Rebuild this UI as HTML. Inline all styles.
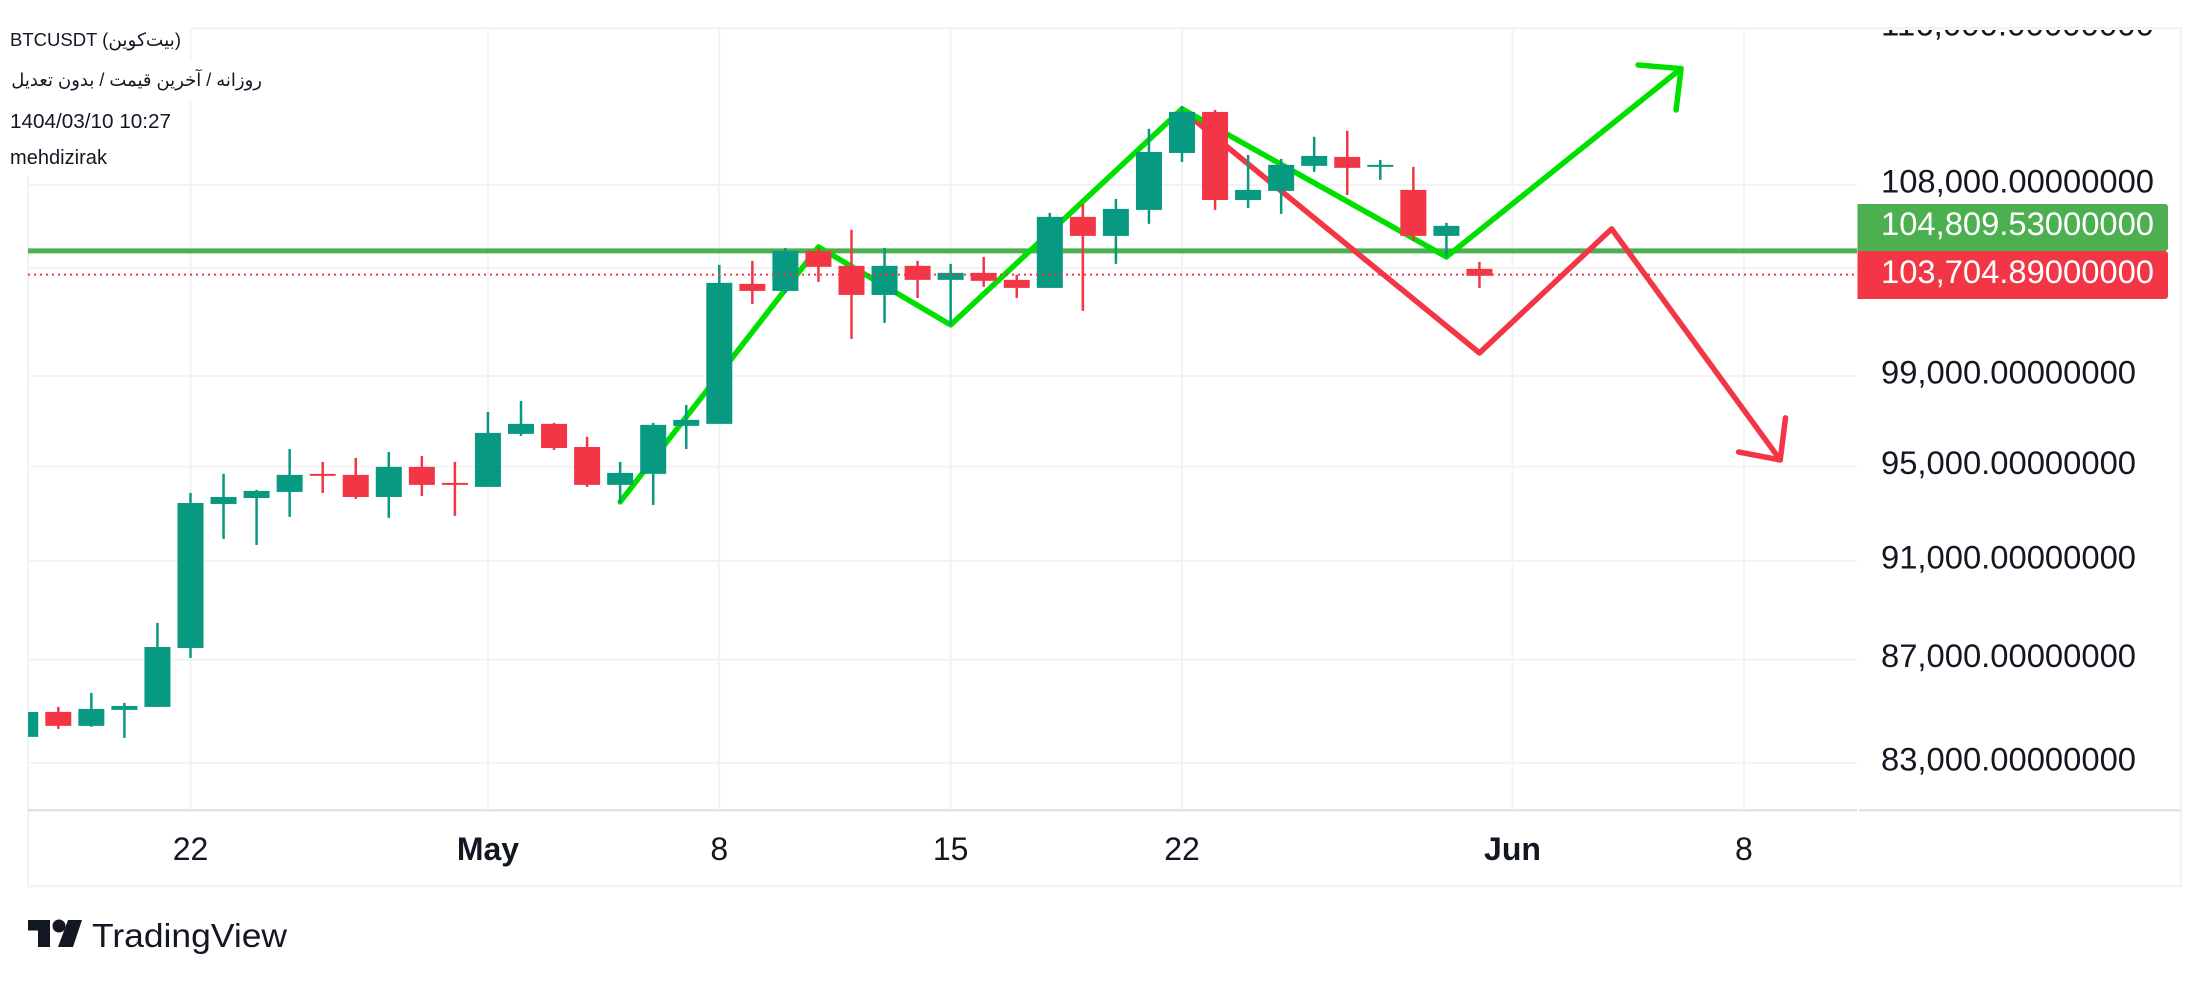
<!DOCTYPE html>
<html lang="en">
<head>
<meta charset="utf-8">
<title>BTCUSDT chart</title>
<style>
html,body{margin:0;padding:0;background:#fff;width:2209px;height:982px;overflow:hidden}
svg{display:block}
text{font-family:"Liberation Sans","DejaVu Sans",sans-serif;fill:#131722}
</style>
</head>
<body>
<svg id="chart" width="2209" height="982" viewBox="0 0 2209 982" xmlns="http://www.w3.org/2000/svg">
  <defs>
    <clipPath id="plot-clip"><rect x="28" y="28" width="1829" height="782"/></clipPath>
    <clipPath id="axis-clip"><rect x="1858" y="30" width="322" height="780"/></clipPath>
  </defs>
  <g id="grid"></g>
  <g id="frame">
    <rect x="190" y="27" width="1992" height="2.5" fill="#f0f3fa"/>
    <rect x="27" y="28" width="2.5" height="859" fill="#f0f3fa"/>
    <rect x="2180" y="28" width="2" height="859" fill="#f0f3fa"/>
    <rect x="27" y="885" width="2155" height="2.5" fill="#f0f3fa"/>
    <rect x="28" y="809" width="1829" height="2.5" fill="#e0e3eb"/>
    <rect x="1859" y="809" width="322" height="2.5" fill="#e0e3eb"/>
  </g>
  <g id="marks" clip-path="url(#plot-clip)"></g>
  <g id="price-axis" clip-path="url(#axis-clip)"></g>
  <g id="time-axis"></g>

  <g>
    <path d="M1857.5 204H2165a3 3 0 0 1 3 3V248a3 3 0 0 1-3 3H1857.5Z" fill="#4caf50"/>
    <text x="1881" y="235" font-size="32" textLength="273" lengthAdjust="spacingAndGlyphs" style="fill:#ffffff">104,809.53000000</text>
    <path d="M1857.5 251H2165a3 3 0 0 1 3 3V296a3 3 0 0 1-3 3H1857.5Z" fill="#f23645"/>
    <text x="1881" y="283" font-size="32" textLength="273" lengthAdjust="spacingAndGlyphs" style="fill:#ffffff">103,704.89000000</text>
  </g>

  <g>
    <rect x="0" y="26" width="190" height="36" fill="#fff"/>
    <rect x="0" y="60" width="262" height="42" fill="#fff"/>
    <rect x="0" y="100" width="172" height="40" fill="#fff"/>
    <rect x="0" y="138" width="108" height="39" fill="#fff"/>
    <text x="10" y="46" font-size="18.500">BTCUSDT (بیت‌کوین)</text>
    <text x="262" y="86" font-size="18" direction="rtl" text-anchor="start">روزانه / آخرین قیمت / بدون تعدیل</text>
    <text x="10" y="128" font-size="20" textLength="161" lengthAdjust="spacingAndGlyphs">1404/03/10 10:27</text>
    <text x="10" y="164" font-size="20" textLength="97" lengthAdjust="spacingAndGlyphs">mehdizirak</text>
  </g>

  <g>
    <path fill="#131722" d="M28 920H50V947H38V930.500H28Z M58 947L68 920H82L73 947Z"/>
    <circle cx="59" cy="926" r="6.500" fill="#131722"/>
    <text x="92" y="947" font-size="33" textLength="195" lengthAdjust="spacingAndGlyphs">TradingView</text>
  </g>
</svg>

<script>
// Daily candles, day offset relative to 22 April
const days = [-5,-4,-3,-2,-1,0,1,2,3,4,5,6,7,8,9,10,11,12,13,14,15,16,17,18,19,20,21,22,23,24,25,26,27,28,29,30,31,32,33,34,35,36,37,38,39];
const opens = [83990,84952,84413,85029,85145,87463,93393,93647,93906,94683,94639,93690,94984,94294,94122,96423,96864,95849,94208,94683,96776,96864,103244,102913,104802,104094,102724,104094,103432,103763,103432,103054,106444,105525,106782,109588,111656,107265,107710,108946,109390,108897,107759,105525,103952];
const highs = [84950,85145,85690,85299,88468,93863,94683,93992,95760,95200,95372,95631,95458,95200,97394,97879,96908,96290,95200,96908,97702,104141,104330,104946,104946,105816,104946,104330,104188,104519,103669,106637,107072,107314,110799,111960,111757,109489,109291,110394,110698,109242,108897,106154,104282];
const lows = [83990,84297,84375,83952,85145,87067,91917,91665,92845,93863,93604,92803,93733,92887,94122,96335,95717,94122,93435,93351,95760,96864,102303,102818,103338,100688,101425,102582,101335,103102,102582,103054,101980,104188,106106,109143,106782,106879,106589,108650,107512,108254,105284,104519,103054];
const closes = [84950,84413,85067,85183,87501,93435,93690,93949,94639,94596,93690,94984,94208,94208,96467,96864,95805,94208,94725,96820,97041,103291,102913,104802,104047,102724,104094,103432,103763,103386,103054,106444,105525,106830,109637,111656,107265,107759,108995,109440,108847,108995,105525,106009,103622];

// Axis contents
const gridPrices = [108000,104000,99000,95000,91000,87000,83000];
const priceTickValues = [116000,108000,99000,95000,91000,87000,83000];
const priceTickLabels = ["116,000.00000000","108,000.00000000","99,000.00000000","95,000.00000000","91,000.00000000","87,000.00000000","83,000.00000000"];
const timeTickDays = [0,9,16,23,30,40,47];
const timeTickLabels = ["22","May","8","15","22","Jun","8"];
const timeTickBold = [false,true,false,false,false,true,false];

// Horizontal price levels
const resistancePrice = 104809.53;
const lastPrice = 103704.89;

// Hand-drawn pattern lines: day offset and price
const greenPathDays = [13,19,23,30,38,45.1];
const greenPathPrices = [93480,104994,101333,111809,104519,113884];
const greenHeadDays = [43.8,45.1,44.95];
const greenHeadPrices = [114068,113884,111757];
const redPathDays = [30,39,43,48.1];
const redPathPrices = [111757,100045,105864,95286];
const redHeadDays = [46.84,48.1,48.26];
const redHeadPrices = [95631,95286,97129];

const UP = "#089981";
const DOWN = "#f23645";
const NS = "http://www.w3.org/2000/svg";

function xScale(day){ return 190.5 + 33.05 * day; }
function yScale(price){ return 185 + 2195 * Math.log(108000 / price); }

function make(tag, parent, attrs){
  const el = document.createElementNS(NS, tag);
  Object.keys(attrs).forEach(function(k){ el.setAttribute(k, attrs[k]); });
  parent.appendChild(el);
  return el;
}

const gridLayer = document.getElementById("grid");
const marks = document.getElementById("marks");
const priceAxis = document.getElementById("price-axis");
const timeAxis = document.getElementById("time-axis");

gridPrices.forEach(function(p){
  const y = yScale(p);
  const line = make("line", gridLayer, {x1:28, x2:1857, y1:y, y2:y, stroke:"#f3f3f4", "stroke-width":2});
  
  
});
timeTickDays.forEach(function(d){
  const x = xScale(d);
  const line = make("line", gridLayer, {x1:x, x2:x, y1:28, y2:810, stroke:"#f2f3f5", "stroke-width":2});
  
  
});

priceTickValues.forEach(function(p, i){
  const label = make("text", priceAxis, {x:1881, y:yScale(p) + 7.5, "font-size":32});
  label.textContent = priceTickLabels[i];
  label.setAttribute("textLength", priceTickLabels[i].length === 16 ? 273 : 255);
  label.setAttribute("lengthAdjust", "spacingAndGlyphs");
  
  
});

timeTickDays.forEach(function(d, i){
  const label = make("text", timeAxis, {x:xScale(d), y:860, "font-size":32, "text-anchor":"middle", "font-weight":timeTickBold[i] ? "bold" : "normal"});
  label.textContent = timeTickLabels[i];
  
  
});

const resistanceY = yScale(resistancePrice);
const resistanceLine = make("line", marks, {x1:28, x2:1857, y1:resistanceY, y2:resistanceY, stroke:"#4caf50", "stroke-width":5});



function polyPoints(dayList, priceList){
  return dayList.map(function(d, i){ return xScale(d) + "," + yScale(priceList[i]); }).join(" ");
}

const redPath = make("polyline", marks, {points:polyPoints(redPathDays, redPathPrices), fill:"none", stroke:"#f23645", "stroke-width":5.5, "stroke-linejoin":"round", "stroke-linecap":"round"});


const redHead = make("polyline", marks, {points:polyPoints(redHeadDays, redHeadPrices), fill:"none", stroke:"#f23645", "stroke-width":5.5, "stroke-linejoin":"round", "stroke-linecap":"round"});



const greenPath = make("polyline", marks, {points:polyPoints(greenPathDays, greenPathPrices), fill:"none", stroke:"#00e000", "stroke-width":5.5, "stroke-linejoin":"round", "stroke-linecap":"round"});


const greenHead = make("polyline", marks, {points:polyPoints(greenHeadDays, greenHeadPrices), fill:"none", stroke:"#00e000", "stroke-width":5.5, "stroke-linejoin":"round", "stroke-linecap":"round"});



days.forEach(function(d, i){
  const x = xScale(d);
  const color = closes[i] >= opens[i] ? UP : DOWN;
  const wickTop = yScale(highs[i]);
  const wickBottom = yScale(lows[i]);
  const bodyTop = yScale(Math.max(opens[i], closes[i]));
  const bodyBottom = yScale(Math.min(opens[i], closes[i]));
  const wick = make("rect", marks, {x:x - 1.25, y:wickTop, width:2.5, height:Math.max(wickBottom - wickTop, 1), fill:color});
  
  
  const body = make("rect", marks, {x:x - 13, y:bodyTop, width:26, height:Math.max(bodyBottom - bodyTop, 2), fill:color});
  
  
});

const lastY = yScale(lastPrice);
const lastLine = make("line", marks, {x1:28, x2:1857, y1:lastY + 0.5, y2:lastY + 0.5, stroke:"#f23645", "stroke-width":2, "stroke-dasharray":"2 4"});


</script>
</body>
</html>
